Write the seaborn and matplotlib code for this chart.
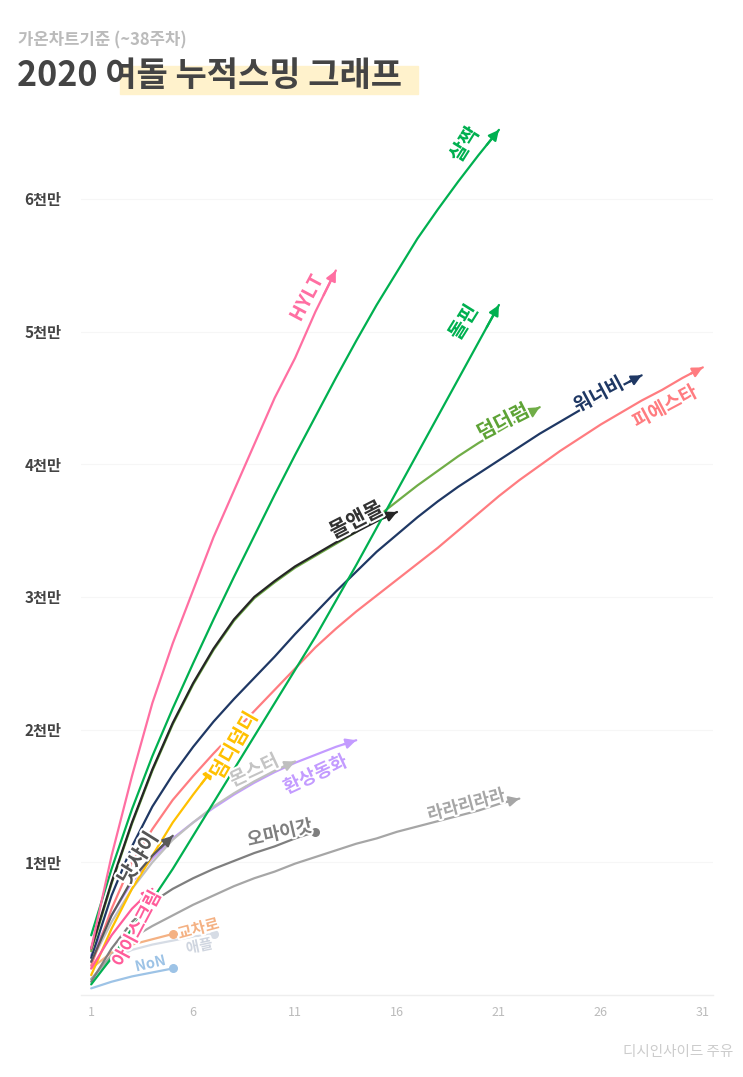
import matplotlib
matplotlib.use("Agg")
import matplotlib.pyplot as plt
import matplotlib.patheffects as pe
from matplotlib.patches import Rectangle
import seaborn as sns
import pandas as pd

# cumulative streams per week since release, in 천만 (10M) units
hylt = [0.35, 1.05, 1.65, 2.2, 2.65, 3.05, 3.45, 3.8, 4.15, 4.5, 4.8, 5.15, 5.46]
saljjak = [0.45, 0.95, 1.4, 1.8, 2.16, 2.5, 2.83, 3.15, 3.46, 3.77, 4.07, 4.36, 4.65,
           4.93, 5.2, 5.45, 5.7, 5.92, 6.13, 6.33, 6.52]
dolphin = [0.08, 0.28, 0.5, 0.72, 0.95, 1.2, 1.45, 1.7, 1.95, 2.2, 2.45, 2.7, 2.97,
           3.24, 3.52, 3.8, 4.08, 4.36, 4.64, 4.92, 5.2]
more_more = [0.35, 0.85, 1.3, 1.7, 2.05, 2.35, 2.61, 2.83, 3.0, 3.12, 3.23, 3.32, 3.41,
             3.49, 3.57, 3.64]
dumhdurum = [0.33, 0.84, 1.29, 1.69, 2.04, 2.34, 2.6, 2.82, 2.99, 3.11, 3.22, 3.31, 3.4,
             3.49, 3.6, 3.72, 3.84, 3.95, 4.06, 4.16, 4.25, 4.34, 4.43]
wannabe = [0.28, 0.75, 1.12, 1.42, 1.66, 1.87, 2.06, 2.23, 2.39, 2.55, 2.72, 2.88, 3.04,
           3.19, 3.34, 3.47, 3.6, 3.72, 3.83, 3.93, 4.03, 4.13, 4.23, 4.32, 4.41, 4.5,
           4.59, 4.67]
fiesta = [0.22, 0.65, 1.0, 1.25, 1.47, 1.65, 1.82, 1.98, 2.14, 2.3, 2.46, 2.62, 2.76,
          2.89, 3.01, 3.13, 3.25, 3.37, 3.5, 3.63, 3.76, 3.88, 3.99, 4.1, 4.2, 4.3,
          4.39, 4.48, 4.56, 4.65, 4.73]
not_shy = [0.25, 0.6, 0.87, 1.05, 1.2]
dumdi = [0.15, 0.5, 0.8, 1.05, 1.3, 1.51, 1.71]
monster = [0.25, 0.55, 0.8, 1.0, 1.17, 1.3, 1.42, 1.52, 1.61, 1.69, 1.76]
fairytale = [0.3, 0.6, 0.85, 1.03, 1.18, 1.3, 1.41, 1.51, 1.6, 1.68, 1.75, 1.81, 1.87, 1.92]
icecream = [0.2, 0.45, 0.65, 0.8]
omg = [0.1, 0.35, 0.55, 0.7, 0.8, 0.88, 0.95, 1.01, 1.07, 1.12, 1.18, 1.23]
lalali = [0.12, 0.3, 0.43, 0.52, 0.6, 0.68, 0.75, 0.82, 0.88, 0.93, 0.99, 1.04, 1.09,
          1.14, 1.18, 1.23, 1.27, 1.31, 1.35, 1.39, 1.44, 1.48]
crossroads = [0.2, 0.32, 0.38, 0.42, 0.46]
apple = [0.12, 0.27, 0.34, 0.38, 0.41, 0.44, 0.46]
non = [0.05, 0.1, 0.14, 0.17, 0.2]

songs = ["애플", "NoN", "교차로", "라라리라라", "오마이갓", "환상동화", "몬스터", "덤디덤디",
         "피에스타", "워너비", "덤더럼", "몰앤몰", "낫샤이", "돌핀", "살짝", "아이스크림", "HYLT"]
series = [apple, non, crossroads, lalali, omg, fairytale, monster, dumdi,
          fiesta, wannabe, dumhdurum, more_more, not_shy, dolphin, saljjak, icecream, hylt]
dot_end = ["애플", "NoN", "교차로", "오마이갓"]

y_ticks = [1, 2, 3, 4, 5, 6]
y_labels = ["1천만", "2천만", "3천만", "4천만", "5천만", "6천만"]
x_ticks = [1, 6, 11, 16, 21, 26, 31]

colors = {
    "HYLT": "#ff6fa2", "살짝": "#00b050", "돌핀": "#00b050", "몰앤몰": "#262626",
    "덤더럼": "#70ad47", "워너비": "#1f3864", "피에스타": "#ff7c80", "낫샤이": "#595959",
    "덤디덤디": "#ffc000", "몬스터": "#bfbfbf", "환상동화": "#c39bff", "아이스크림": "#ff5c9a",
    "오마이갓": "#7f7f7f", "라라리라라": "#a6a6a6", "교차로": "#f4b183", "애플": "#d6dce5",
    "NoN": "#9dc3e6",
}
label_colors = dict(colors, 몰앤몰="#333333", 덤더럼="#5ea336", 낫샤이="#555555",
                    애플="#cfd5df", 몬스터="#c4c4c4")

# label placement: (week, value, rotation, fontsize)
label_pos = {
    "HYLT": (11.6, 5.25, 62, 14), "살짝": (19.3, 6.41, 58, 14.5), "돌핀": (19.25, 5.07, 58, 14.5),
    "몰앤몰": (14.0, 3.58, 27, 15), "덤더럼": (21.2, 4.32, 27, 14.5), "워너비": (25.9, 4.52, 28, 14),
    "피에스타": (29.15, 4.43, 28, 13.7), "낫샤이": (3.3, 1.03, 58, 15), "덤디덤디": (8.0, 1.88, 60, 14.5),
    "몬스터": (9.0, 1.69, 25, 13.5), "환상동화": (12.0, 1.66, 25, 13.3), "아이스크림": (3.25, 0.50, 62, 13),
    "오마이갓": (10.25, 1.22, 13, 13), "라라리라라": (19.4, 1.43, 15, 12.5), "교차로": (6.25, 0.50, 15, 11),
    "애플": (6.3, 0.37, 12, 10.5), "NoN": (3.9, 0.24, 13, 10.5),
}

rows = []
for name, vals in zip(songs, series):
    for i, v in enumerate(vals):
        rows.append({"song": name, "week": i + 1, "value": v})
df = pd.DataFrame(rows)

sns.set_theme(style="white")
plt.rcParams["font.family"] = ["Noto Sans CJK KR", "DejaVu Sans"]

fig = plt.figure(figsize=(7.43, 10.77), dpi=100)
ax = fig.add_axes([81 / 743, 82 / 1077, 632 / 743, 895 / 1077])

sns.lineplot(data=df, x="week", y="value", hue="song", hue_order=songs,
             palette=colors, linewidth=1.6, legend=False, ax=ax)

halo = [pe.withStroke(linewidth=3, foreground="white")]
for name, vals in zip(songs, series):
    n = len(vals)
    if name in dot_end:
        ax.scatter([n], [vals[-1]], s=30, color=colors[name], zorder=5)
    else:
        ax.annotate("", xy=(n, vals[-1]), xytext=(n - 0.6, vals[-1] - 0.6 * (vals[-1] - vals[-2])),
                    arrowprops=dict(arrowstyle="-|>", color=colors[name], lw=1.6,
                                    mutation_scale=15, shrinkA=0, shrinkB=0), zorder=5)
    lx, ly, rot, fs = label_pos[name]
    ax.text(lx, ly, name, color=label_colors[name], fontsize=fs, fontweight="bold",
            rotation=rot, rotation_mode="anchor", ha="center", va="center", zorder=6,
            path_effects=halo)

ax.set_xlim(0.5, 31.5)
ax.set_ylim(0, 6.745)
ax.set_xticks(x_ticks)
ax.set_xticklabels([str(t) for t in x_ticks])
ax.set_yticks(y_ticks)
ax.set_yticklabels(y_labels)
ax.tick_params(axis="x", colors="#bbbbbb", labelsize=9, length=0, pad=8)
ax.tick_params(axis="y", colors="#444444", labelsize=11, length=0, pad=14)
for lab in ax.get_yticklabels():
    lab.set_fontweight("bold")
ax.set_xlabel("")
ax.set_ylabel("")
for y in y_ticks:
    ax.axhline(y, color="#f6f6f6", lw=0.8, zorder=0)
for side in ["top", "right", "left"]:
    ax.spines[side].set_visible(False)
ax.spines["bottom"].set_color("#eeeeee")
ax.spines["bottom"].set_linewidth(1)

fig.patches.append(Rectangle((120 / 743, 1 - 94 / 1077), 298 / 743, 28 / 1077,
                             transform=fig.transFigure, color="#fff2cc", zorder=0))
fig.text(17 / 743, 1 - 75 / 1077, "2020 여돌 누적스밍 그래프", fontsize=24.5, fontweight="heavy",
         color="#444444", va="center", ha="left")
fig.text(18 / 743, 1 - 40 / 1077, "가온차트기준 (~38주차)", fontsize=12, fontweight="bold",
         color="#bbbbbb", va="center", ha="left")
fig.text(733 / 743, 1 - 1052 / 1077, "디시인사이드 주유", fontsize=10.5,
         color="#cccccc", va="center", ha="right")

fig.savefig("out.png", dpi=100)
